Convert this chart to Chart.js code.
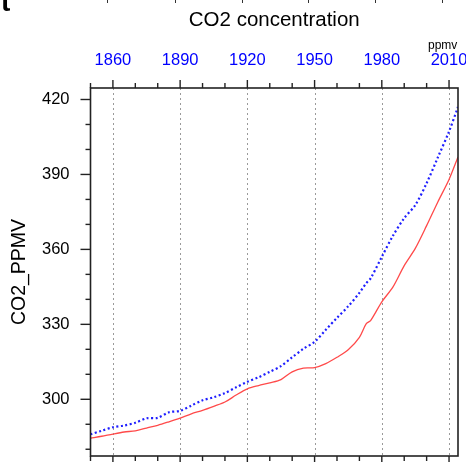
<!DOCTYPE html>
<html>
<head>
<meta charset="utf-8">
<script src="https://cdn.jsdelivr.net/npm/chart.js@4/dist/chart.umd.min.js"></script>
<style>
  body { margin: 0; background: #fff; }
  #wrap { position: relative; width: 466px; height: 462px; overflow: hidden; }
  #panelTag { position: absolute; left: 1px; top: -14px; font: bold 28px "Liberation Sans", Arial, sans-serif; color: #000; }
  #units { position: absolute; left: 428px; top: 39px; font: 12px "Liberation Sans", Arial, sans-serif; line-height: 12px; color: #000; }
  .edge { position: absolute; top: 0; width: 1.4px; height: 3px; background: #333; }
</style>
</head>
<body>
<div id="wrap">
  <canvas id="chart" width="466" height="462"></canvas>
  <div id="panelTag">t</div>
  <div id="units">ppmv</div>
  <!-- bottom ticks of the panel above, cut by the crop -->
  <div class="edge" style="left:107px"></div>
  <div class="edge" style="left:174.5px"></div>
  <div class="edge" style="left:241.5px"></div>
  <div class="edge" style="left:308px"></div>
  <div class="edge" style="left:375px"></div>
  <div class="edge" style="left:441.5px"></div>
</div>
<script>
// === Data ===
const years = [1850, 1855, 1860, 1865, 1870, 1875, 1880, 1885, 1890, 1895, 1900, 1905, 1910, 1915, 1920, 1925, 1930, 1935, 1940, 1945, 1950, 1955, 1960, 1965, 1970, 1973, 1975, 1980, 1985, 1990, 1995, 2000, 2005, 2010, 2014];
const co2Red = [284.4, 285.2, 286.1, 286.9, 287.4, 288.5, 289.6, 291.0, 292.5, 294.2, 295.6, 297.2, 298.9, 301.7, 304.2, 305.5, 306.6, 307.9, 311.0, 312.5, 312.7, 314.3, 316.8, 319.8, 324.8, 330.2, 331.5, 339.0, 345.0, 353.5, 360.5, 369.5, 379.0, 388.0, 397.0];
const co2Blue = [286.0, 287.4, 288.8, 289.5, 290.6, 292.4, 292.6, 294.8, 295.4, 297.5, 299.6, 300.8, 302.5, 304.8, 307.0, 308.8, 311.0, 313.3, 316.8, 320.2, 323.0, 327.8, 332.6, 337.2, 342.6, 346.4, 348.4, 357.0, 365.5, 372.5, 377.8, 386.5, 396.8, 407.2, 417.0];

// === Axes ===
const yearTicks = [1860, 1890, 1920, 1950, 1980, 2010];
const yearMinorTicks = [1850, 1870, 1880, 1900, 1910, 1930, 1940, 1960, 1970, 1990, 2000];
const ppmTicks = [300, 330, 360, 390, 420];
const ppmMinorTicks = [280, 290, 310, 320, 340, 350, 370, 380, 400, 410];

const xRange = [1850, 2014];
const yRange = [277.3, 424.6];

const toPoints = (vals) => years.map((yr, i) => ({ x: yr, y: vals[i] }));

const noPad = (s) => {
  s.paddingLeft = 0;
  s.paddingRight = 0;
  s.paddingTop = 0;
  s.paddingBottom = 0;
};

// === Frame, outward ticks, dotted grid ===
const frameTicks = {
  id: "frameTicks",
  beforeDatasetsDraw(chart) {
    const { ctx, chartArea: a, scales } = chart;
    ctx.save();
    ctx.strokeStyle = "#9a9a9a";
    ctx.lineWidth = 1;
    ctx.setLineDash([2, 3]);
    yearTicks.forEach((yr) => {
      const x = Math.round(scales.x.getPixelForValue(yr)) + 0.5;
      ctx.beginPath();
      ctx.moveTo(x, a.top);
      ctx.lineTo(x, a.bottom);
      ctx.stroke();
    });
    ctx.restore();
  },
  afterDatasetsDraw(chart) {
    const { ctx, chartArea: a, scales } = chart;
    ctx.save();
    ctx.strokeStyle = "#222";
    ctx.lineWidth = 1.6;
    ctx.strokeRect(a.left, a.top, a.right - a.left, a.bottom - a.top);

    const tick = (x1, y1, x2, y2) => {
      ctx.beginPath();
      ctx.moveTo(x1, y1);
      ctx.lineTo(x2, y2);
      ctx.stroke();
    };
    ctx.lineWidth = 1.4;
    yearTicks.forEach((yr) => {
      const x = scales.x.getPixelForValue(yr);
      tick(x, a.top - 8, x, a.top);
      tick(x, a.bottom, x, a.bottom + 8);
    });
    yearMinorTicks.forEach((yr) => {
      const x = scales.x.getPixelForValue(yr);
      tick(x, a.top - 5, x, a.top);
      tick(x, a.bottom, x, a.bottom + 5);
    });
    ppmTicks.forEach((v) => {
      const y = scales.y.getPixelForValue(v);
      tick(a.left - 10, y, a.left, y);
    });
    ppmMinorTicks.forEach((v) => {
      const y = scales.y.getPixelForValue(v);
      tick(a.left - 5, y, a.left, y);
    });
    ctx.restore();
  },
};

// === Chart ===
new Chart(document.getElementById("chart"), {
  type: "line",
  data: {
    datasets: [
      {
        label: "CO2 (blue)",
        data: toPoints(co2Blue),
        borderColor: "#1f1fff",
        borderWidth: 2.2,
        borderDash: [2, 2.5],
        pointRadius: 0,
        tension: 0.3,
      },
      {
        label: "CO2 (red)",
        data: toPoints(co2Red),
        borderColor: "#ff4a4a",
        borderWidth: 1.3,
        pointRadius: 0,
        tension: 0.3,
      },
    ],
  },
  plugins: [frameTicks],
  options: {
    responsive: false,
    animation: false,
    layout: { padding: { left: 0, right: 8, top: 0, bottom: 6 } },
    plugins: {
      legend: { display: false },
      tooltip: { enabled: false },
      title: {
        display: true,
        fullSize: false,
        text: "CO2 concentration",
        color: "#000",
        font: { family: "'Liberation Sans', Arial, sans-serif", size: 20.5, weight: "normal", lineHeight: 1.2 },
        padding: { top: 7.7, bottom: 0 },
      },
    },
    scales: {
      x: {
        type: "linear",
        position: "top",
        min: xRange[0],
        max: xRange[1],
        afterBuildTicks: (s) => { s.ticks = yearTicks.map((v) => ({ value: v })); },
        afterFit: (s) => { s.height = 55.7; noPad(s); },
        grid: { display: false, drawTicks: false },
        border: { display: false },
        ticks: {
          color: "#0000ff",
          padding: 17.5,
          maxRotation: 0,
          autoSkip: false,
          font: { family: "'Liberation Sans', Arial, sans-serif", size: 16.5 },
          callback: (v) => String(v),
        },
      },
      y: {
        type: "linear",
        position: "left",
        min: yRange[0],
        max: yRange[1],
        afterBuildTicks: (s) => { s.ticks = ppmTicks.map((v) => ({ value: v })); },
        afterFit: (s) => { s.width = 90.5; noPad(s); },
        grid: { display: false, drawTicks: false },
        border: { display: false },
        title: {
          display: true,
          text: "CO2_PPMV",
          color: "#000",
          font: { family: "'Liberation Sans', Arial, sans-serif", size: 19.5, lineHeight: 1.2 },
          padding: { top: 8.3, bottom: 0 },
        },
        ticks: {
          color: "#000",
          padding: 21,
          autoSkip: false,
          font: { family: "'Liberation Sans', Arial, sans-serif", size: 16.5 },
          callback: (v) => String(v),
        },
      },
    },
  },
});
</script>
</body>
</html>
